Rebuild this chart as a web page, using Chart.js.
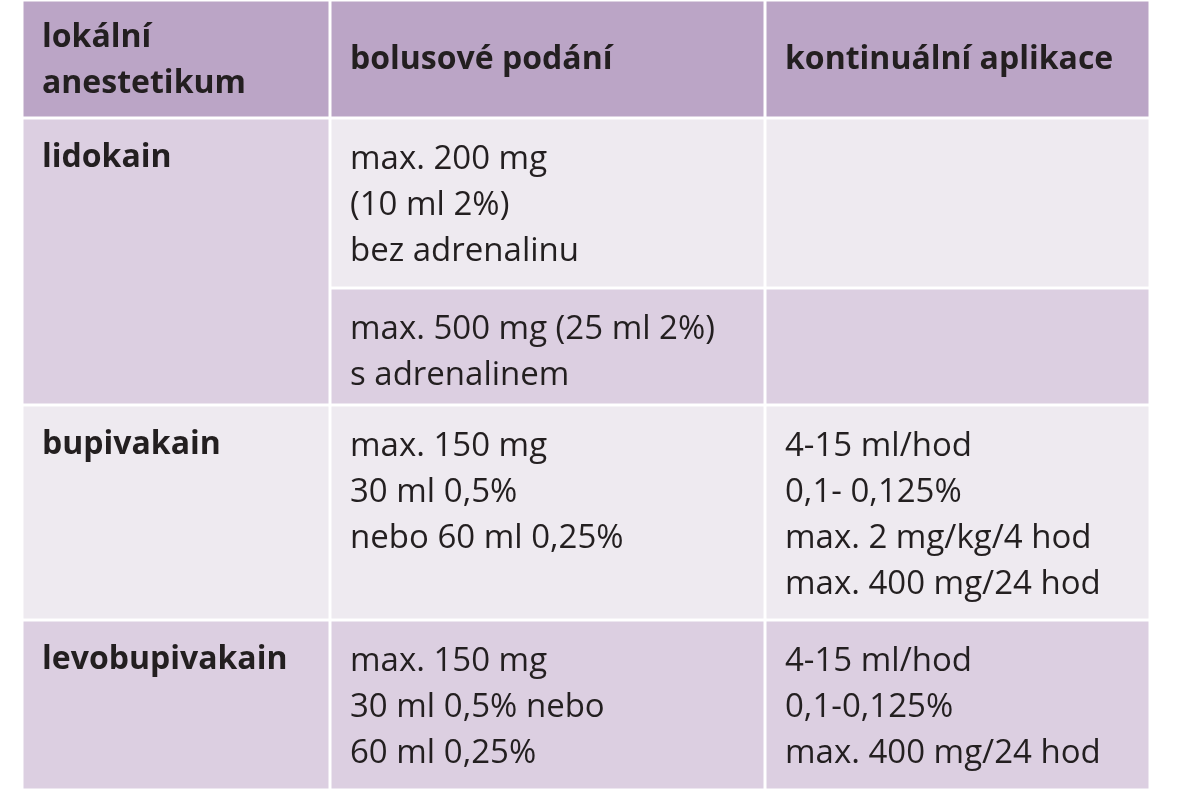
<!DOCTYPE html>
<html><head><meta charset="utf-8">
<script src="https://cdn.jsdelivr.net/npm/chart.js@4.4.1/dist/chart.umd.min.js"></script>
<style>html,body{margin:0;padding:0;background:#fff}#wrap{width:1180px;height:800px}</style>
</head><body><div id="wrap"><canvas id="c"></canvas></div>
<script>
const headers = [["lokální","anestetikum"],["bolusové podání"],["kontinuální aplikace"]];
const drugs = ["lidokain","bupivakain","levobupivakain"];
const bolus = [
  ["max. 200 mg","(10 ml 2%)","bez adrenalinu"],
  ["max. 500 mg (25 ml 2%)","s adrenalinem"],
  ["max. 150 mg","30 ml 0,5%","nebo 60 ml 0,25%"],
  ["max. 150 mg","30 ml 0,5% nebo","60 ml 0,25%"]
];
const continuous = [
  [],
  [],
  ["4-15 ml/hod","0,1- 0,125%","max. 2 mg/kg/4 hod","max. 400 mg/24 hod"],
  ["4-15 ml/hod","0,1-0,125%","max. 400 mg/24 hod"]
];
const drugRowSpan = [2,1,1];

// layout (pixels)
const colX = [22,330,765,1150];
const rowY = [0,118,288,405,620,790];
const C_HEAD="#bba5c6", C_LIGHT="#eeeaf0", C_LAV="#dccfe1";
const rowFill=[C_LIGHT,C_LAV,C_LIGHT,C_LAV];
const drugFill=[C_LAV,C_LIGHT,C_LAV];

const tablePlugin={id:'table',afterDraw(chart){
  const ctx=chart.ctx, sx=chart.scales.x, sy=chart.scales.y;
  const X=v=>sx.getPixelForValue(v), Y=v=>sy.getPixelForValue(v);
  const cell=(x0,y0,x1,y1,fill)=>{ctx.fillStyle=fill;ctx.fillRect(X(x0)+1.5,Y(y0)+1.5,X(x1)-X(x0)-3,Y(y1)-Y(y0)-3);};
  const text=(lines,x,y,bold)=>{ctx.fillStyle="#231f20";ctx.font=(bold?"bold 32px":"33px")+" 'Open Sans'";ctx.textBaseline="middle";
    lines.forEach((l,i)=>ctx.fillText(l,X(x)+20,Y(y)+i*46));};
  ctx.save();
  for(let c=0;c<3;c++){cell(colX[c],rowY[0],colX[c+1],rowY[1],C_HEAD);}
  text(headers[0],colX[0],38,true);text(headers[1],colX[1],60,true);text(headers[2],colX[2],60,true);
  let r=0;
  drugs.forEach((d,i)=>{
    const y0=rowY[r+1], y1=rowY[r+1+drugRowSpan[i]];
    cell(colX[0],y0,colX[1],y1,drugFill[i]);
    text([d],colX[0],y0+40,true);
    r+=drugRowSpan[i];
  });
  bolus.forEach((b,i)=>{
    const y0=rowY[i+1], y1=rowY[i+2];
    cell(colX[1],y0,colX[2],y1,rowFill[i]);
    cell(colX[2],y0,colX[3],y1,rowFill[i]);
    text(b,colX[1],y0+42,false);
    text(continuous[i],colX[2],y0+42,false);
  });
  ctx.restore();
}};
new Chart(document.getElementById('c'),{type:'scatter',data:{datasets:[{data:[]}]},
  options:{responsive:true,maintainAspectRatio:false,animation:false,layout:{padding:0},
    plugins:{legend:{display:false},tooltip:{enabled:false}},
    scales:{x:{type:'linear',min:0,max:1180,display:false},y:{type:'linear',min:0,max:800,reverse:true,display:false}}},
  plugins:[tablePlugin]});
</script></body></html>
